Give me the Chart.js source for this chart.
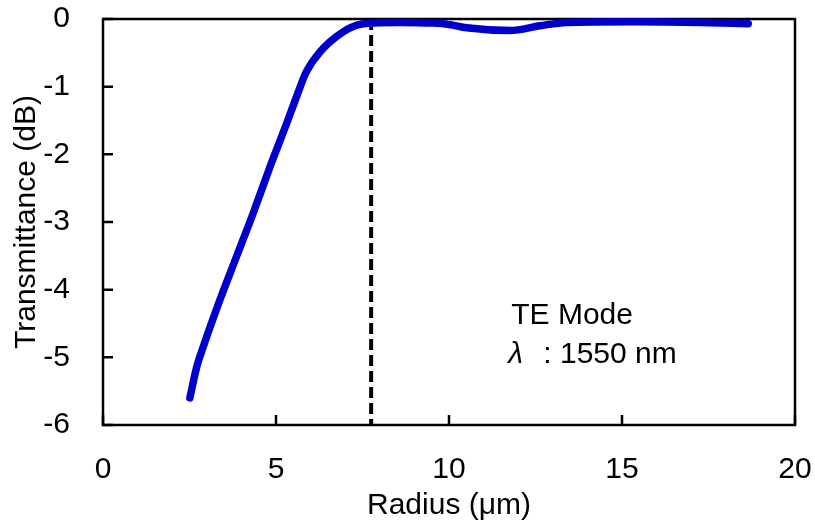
<!DOCTYPE html>
<html>
<head>
<meta charset="utf-8">
<script src="https://cdn.jsdelivr.net/npm/chart.js@4.4.1/dist/chart.umd.min.js"></script>
<style>
  body { margin: 0; background: #fff; }
  #wrap { width: 815px; height: 524px; }
</style>
</head>
<body>
<div id="wrap"><canvas id="radiusChart" width="815" height="524"></canvas></div>
<script>
// values
const radius = [2.51, 2.71, 2.90, 3.38, 3.86, 4.34, 4.83, 5.31, 5.65, 5.84, 5.98, 6.10, 6.37, 6.75, 7.14, 7.52,
                8.58, 9.54, 10.00, 10.51, 11.76, 12.63, 13.40, 15.32, 17.25, 18.65];
const transmittance = [-5.60, -5.14, -4.84, -4.15, -3.51, -2.87, -2.18, -1.54, -1.07, -0.82, -0.69, -0.60, -0.43, -0.26, -0.13, -0.07,
                       -0.05, -0.06, -0.08, -0.13, -0.17, -0.10, -0.05, -0.04, -0.05, -0.07];
const cutoffRadius = 7.75;
const xTicks = [0, 5, 10, 15, 20];
const yTicks = [0, -1, -2, -3, -4, -5, -6];
const noteLines = ['TE Mode', ': 1550 nm'];

const FONT = "'Liberation Sans', Arial, sans-serif";

// frame + inward tick marks, like the excel original
const frameTicks = {
    id: 'frameTicks',
    beforeDatasetsDraw(chart) {
        const { ctx, chartArea: a, scales: { x, y } } = chart;
        ctx.save();
        ctx.strokeStyle = '#000';
        ctx.lineWidth = 2.5;
        ctx.beginPath();
        x.ticks.forEach(t => {
            const px = x.getPixelForValue(t.value);
            ctx.moveTo(px, a.bottom);
            ctx.lineTo(px, a.bottom - 10);
        });
        y.ticks.forEach(t => {
            const py = y.getPixelForValue(t.value);
            ctx.moveTo(a.left, py);
            ctx.lineTo(a.left + 10, py);
        });
        ctx.stroke();
        ctx.strokeRect(a.left, a.top, a.right - a.left, a.bottom - a.top);
        ctx.restore();
    }
};

const noteText = {
    id: 'noteText',
    afterDraw(chart) {
        const { ctx, scales: { x, y } } = chart;
        const left = x.getPixelForValue(11.8);
        ctx.save();
        ctx.fillStyle = '#000';
        ctx.textBaseline = 'middle';
        ctx.font = `30px ${FONT}`;
        ctx.fillText(noteLines[0], left, y.getPixelForValue(-4.39));
        ctx.font = `italic 30px ${FONT}`;
        ctx.fillText('λ', left - 3, y.getPixelForValue(-4.96));
        ctx.font = `30px ${FONT}`;
        ctx.fillText(noteLines[1], left + 32, y.getPixelForValue(-4.96));
        ctx.restore();
    }
};

const ctx = document.getElementById('radiusChart').getContext('2d');

new Chart(ctx, {
    type: 'line',
    data: {
        datasets: [{
            data: radius.map((r, i) => ({ x: r, y: transmittance[i] })),
            borderColor: '#0000CC',
            borderWidth: 7.5,
            borderCapStyle: 'round',
            borderJoinStyle: 'round',
            pointRadius: 0,
            cubicInterpolationMode: 'monotone',
            clip: false
        }, {
            data: [{ x: cutoffRadius, y: 0 }, { x: cutoffRadius, y: -6 }],
            borderColor: '#000',
            borderWidth: 4,
            borderDash: [11, 5],
            pointRadius: 0
        }]
    },
    options: {
        responsive: false,
        devicePixelRatio: 1,
        animation: false,
        layout: { padding: { top: 19, right: 20, left: 0, bottom: 0 } },
        plugins: { legend: { display: false }, tooltip: { enabled: false } },
        scales: {
            x: {
                type: 'linear',
                min: 0,
                max: 20,
                afterBuildTicks: s => { s.ticks = xTicks.map(v => ({ value: v })); },
                afterFit: s => { s.height = 99; s.paddingLeft = 0; s.paddingRight = 0; },
                grid: { display: false, drawTicks: false },
                border: { display: false },
                ticks: { color: '#000', font: { family: FONT, size: 30 }, padding: 27, maxRotation: 0 },
                title: {
                    display: true,
                    text: 'Radius (μm)',
                    color: '#000',
                    font: { family: FONT, size: 30 },
                    padding: { top: 0, bottom: 0 }
                }
            },
            y: {
                min: -6,
                max: 0,
                afterBuildTicks: s => { s.ticks = yTicks.map(v => ({ value: v })); },
                afterFit: s => { s.width = 103; s.paddingTop = 0; s.paddingBottom = 0; },
                grid: { display: false, drawTicks: false },
                border: { display: false },
                ticks: { color: '#000', font: { family: FONT, size: 30 }, padding: 33 },
                title: {
                    display: true,
                    text: 'Transmittance (dB)',
                    color: '#000',
                    font: { family: FONT, size: 30 },
                    padding: { top: 9, bottom: 0 }
                }
            }
        }
    },
    plugins: [frameTicks, noteText]
});
</script>
</body>
</html>
